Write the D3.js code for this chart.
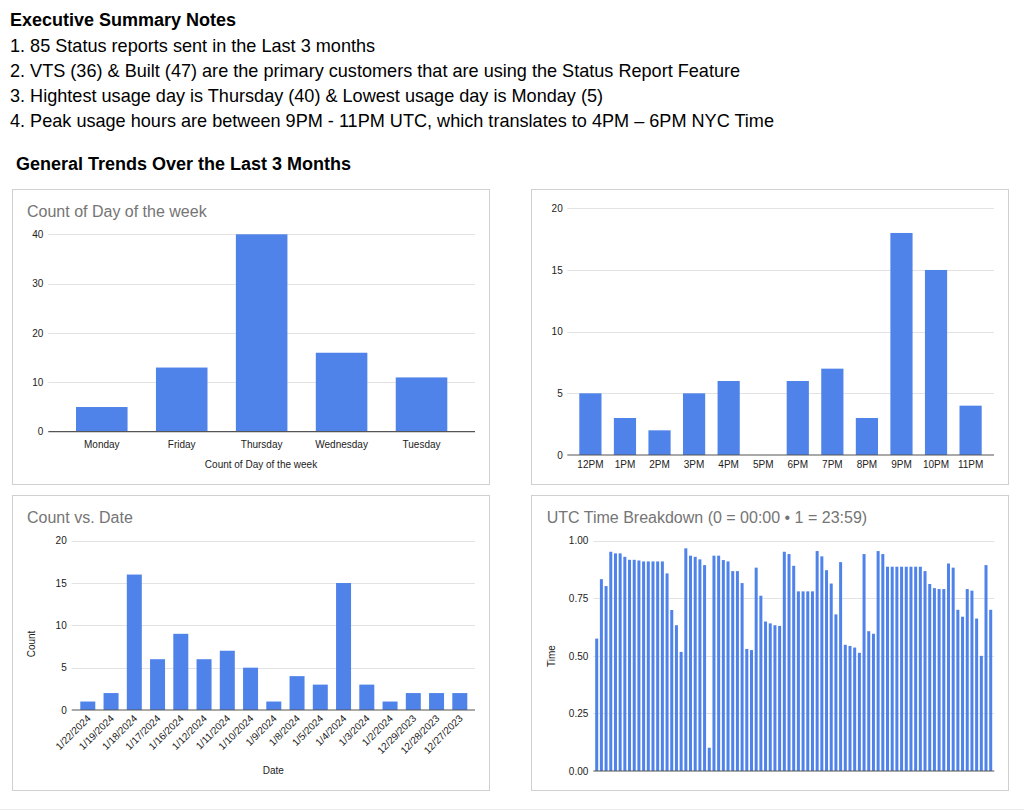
<!DOCTYPE html>
<html>
<head>
<meta charset="utf-8">
<script src="https://cdn.jsdelivr.net/npm/d3@7"></script>
<style>
  html, body { margin: 0; padding: 0; background: #fff; }
  svg { display: block; font-family: "Liberation Sans", Arial, Helvetica, sans-serif; }
</style>
</head>
<body>
<svg id="chart" width="1024" height="811"></svg>
<script>
// ---------- DATA ----------
const summaryTitle = "Executive Summary Notes";
const summaryLines = [
  "1. 85 Status reports sent in the Last 3 months",
  "2. VTS (36) & Built (47) are the primary customers that are using the Status Report Feature",
  "3. Hightest usage day is Thursday (40) & Lowest usage day is Monday (5)",
  "4. Peak usage hours are between 9PM - 11PM UTC, which translates to 4PM \u2013 6PM NYC Time"
];
const sectionTitle = "General Trends Over the Last 3 Months";

const days = ["Monday", "Friday", "Thursday", "Wednesday", "Tuesday"];
const dayCounts = [5, 13, 40, 16, 11];
const dayTicks = [0, 10, 20, 30, 40];

const hours = ["12PM", "1PM", "2PM", "3PM", "4PM", "5PM", "6PM", "7PM", "8PM", "9PM", "10PM", "11PM"];
const hourCounts = [5, 3, 2, 5, 6, 0, 6, 7, 3, 18, 15, 4];
const hourTicks = [0, 5, 10, 15, 20];

const dates = ["1/22/2024", "1/19/2024", "1/18/2024", "1/17/2024", "1/16/2024", "1/12/2024",
  "1/11/2024", "1/10/2024", "1/9/2024", "1/8/2024", "1/5/2024", "1/4/2024", "1/3/2024",
  "1/2/2024", "12/29/2023", "12/28/2023", "12/27/2023"];
const dateCounts = [1, 2, 16, 6, 9, 6, 7, 5, 1, 4, 3, 15, 3, 1, 2, 2, 2];
const dateTicks = [0, 5, 10, 15, 20];

const utcTimes = [
  0.575, 0.833, 0.803, 0.952, 0.945, 0.945, 0.930, 0.917, 0.917, 0.914,
  0.910, 0.910, 0.910, 0.910, 0.910, 0.858, 0.699, 0.633, 0.517, 0.967,
  0.935, 0.930, 0.919, 0.894, 0.101, 0.935, 0.935, 0.916, 0.910, 0.868,
  0.868, 0.816, 0.530, 0.525, 0.883, 0.761, 0.649, 0.641, 0.633, 0.630,
  0.952, 0.942, 0.891, 0.780, 0.780, 0.780, 0.780, 0.955, 0.932, 0.872,
  0.814, 0.680, 0.907, 0.548, 0.543, 0.536, 0.513, 0.942, 0.607, 0.596,
  0.955, 0.942, 0.887, 0.887, 0.887, 0.887, 0.887, 0.887, 0.887, 0.887,
  0.868, 0.812, 0.794, 0.790, 0.790, 0.901, 0.883, 0.700, 0.670, 0.790,
  0.783, 0.662, 0.500, 0.894, 0.700
];
const utcTicks = [0, 0.25, 0.5, 0.75, 1];

// ---------- STYLE ----------
const BAR = "#4f83ea";
const GRID = "#e3e3e3";
const BASE = "#555555";
const TICK = "#222222";
const TITLE = "#757575";

const svg = d3.select("#chart");

// summary text
svg.append("text").attr("x", 10).attr("y", 25.5)
  .attr("font-size", 18).attr("font-weight", "bold").attr("fill", "#000").text(summaryTitle);
svg.append("g").selectAll("text").data(summaryLines).join("text")
  .attr("x", 10).attr("y", (d, i) => 51.5 + i * 25.3)
  .attr("font-size", 18.1).attr("fill", "#000").text(d => d);
svg.append("text").attr("x", 16).attr("y", 169.5)
  .attr("font-size", 18).attr("font-weight", "bold").attr("fill", "#000").text(sectionTitle);

// page bottom line
svg.append("line").attr("x1", 0).attr("x2", 1024).attr("y1", 809.5).attr("y2", 809.5)
  .attr("stroke", "#ececec");

// helpers
function box(x, y, w, h) {
  svg.append("rect").attr("x", x + 0.5).attr("y", y + 0.5).attr("width", w).attr("height", h)
    .attr("fill", "#fff").attr("stroke", "#d0d0d0");
}

function yAxis(g, y, ticks, x0, x1, labelX, fmt) {
  g.append("g").selectAll("line").data(ticks.filter(t => t !== 0)).join("line")
    .attr("x1", x0).attr("x2", x1)
    .attr("y1", d => Math.round(y(d)) + 0.5).attr("y2", d => Math.round(y(d)) + 0.5)
    .attr("stroke", GRID);
  const ax = d3.axisLeft(y).tickValues(ticks).tickSize(0).tickPadding(0).tickFormat(fmt);
  const a = g.append("g").attr("transform", `translate(${labelX},0)`).call(ax);
  a.select(".domain").remove();
  a.selectAll("text").attr("font-size", 10).attr("fill", TICK)
    .attr("font-family", "Liberation Sans, Arial, sans-serif");
}

function baseline(g, y0, x0, x1) {
  g.append("line").attr("x1", x0).attr("x2", x1).attr("y1", y0).attr("y2", y0)
    .attr("stroke", BASE).attr("stroke-width", 1.2);
}

function bars(g, cats, vals, x, y) {
  g.append("g").selectAll("rect").data(vals).join("rect")
    .attr("x", (d, i) => x(cats[i])).attr("width", x.bandwidth())
    .attr("y", d => y(d)).attr("height", d => y(0) - y(d))
    .attr("fill", BAR);
}

// ---------- Chart 1: Count of Day of the week ----------
box(12, 189, 477, 295);
{
  const g = svg.append("g");
  g.append("text").attr("x", 27).attr("y", 216.7).attr("font-size", 16).attr("fill", TITLE)
    .text("Count of Day of the week");
  const y = d3.scaleLinear().domain([0, 40]).range([431.7, 234.3]);
  const x = d3.scaleBand().domain(days).range([76, 447.3]).paddingInner(0.355).paddingOuter(0);
  yAxis(g, y, dayTicks, 48.3, 475, 43.3, d3.format("d"));
  bars(g, days, dayCounts, x, y);
  baseline(g, y(0), 48.3, 475);
  const ax = d3.axisBottom(x).tickSize(0).tickPadding(0);
  const a = g.append("g").attr("transform", `translate(0,${y(0) + 9})`).call(ax);
  a.select(".domain").remove();
  a.selectAll("text").attr("font-size", 10).attr("fill", TICK).attr("dy", "0.71em")
    .attr("font-family", "Liberation Sans, Arial, sans-serif");
  g.append("text").attr("x", 261).attr("y", 467.5).attr("text-anchor", "middle")
    .attr("font-size", 10).attr("fill", TICK).text("Count of Day of the week");
}

// ---------- Chart 2: hours ----------
box(531, 189, 477, 295);
{
  const g = svg.append("g");
  const y = d3.scaleLinear().domain([0, 20]).range([455, 208.3]);
  const x = d3.scaleBand().domain(hours).range([579.3, 981.7]).paddingInner(0.358).paddingOuter(0);
  yAxis(g, y, hourTicks, 567.3, 994, 562.7, d3.format("d"));
  bars(g, hours, hourCounts, x, y);
  baseline(g, y(0), 567.3, 994);
  const ax = d3.axisBottom(x).tickSize(0).tickPadding(0);
  const a = g.append("g").attr("transform", `translate(0,${y(0) + 5.5})`).call(ax);
  a.select(".domain").remove();
  a.selectAll("text").attr("font-size", 10).attr("fill", TICK).attr("dy", "0.71em")
    .attr("font-family", "Liberation Sans, Arial, sans-serif");
}

// ---------- Chart 3: Count vs. Date ----------
box(12, 495, 477, 295);
{
  const g = svg.append("g");
  g.append("text").attr("x", 27).attr("y", 523.3).attr("font-size", 16).attr("fill", TITLE)
    .text("Count vs. Date");
  const y = d3.scaleLinear().domain([0, 20]).range([710, 540.7]);
  const x = d3.scaleBand().domain(dates).range([80.3, 467.3]).paddingInner(0.355).paddingOuter(0);
  yAxis(g, y, dateTicks, 71.7, 475, 66.7, d3.format("d"));
  bars(g, dates, dateCounts, x, y);
  baseline(g, y(0), 71.7, 475);
  g.append("g").selectAll("text").data(dates).join("text")
    .attr("transform", d => `translate(${x(d) + x.bandwidth() / 2 - 1.5},${y(0) + 4}) rotate(-45)`)
    .attr("text-anchor", "end").attr("dy", "0.71em")
    .attr("font-size", 10).attr("fill", TICK).text(d => d);
  g.append("text").attr("transform", "translate(35,644) rotate(-90)").attr("text-anchor", "middle")
    .attr("font-size", 10).attr("fill", TICK).text("Count");
  g.append("text").attr("x", 273.3).attr("y", 774).attr("text-anchor", "middle")
    .attr("font-size", 10).attr("fill", TICK).text("Date");
}

// ---------- Chart 4: UTC Time Breakdown ----------
box(531, 495, 477, 295);
{
  const g = svg.append("g");
  g.append("text").attr("x", 546.7).attr("y", 523.3).attr("font-size", 16).attr("fill", TITLE)
    .text("UTC Time Breakdown (0 = 00:00 \u2022 1 = 23:59)");
  const idx = utcTimes.map((d, i) => i);
  const y = d3.scaleLinear().domain([0, 1]).range([771, 540.7]);
  const x = d3.scaleBand().domain(idx).range([595.2, 992.2]).paddingInner(0.36).paddingOuter(0);
  yAxis(g, y, utcTicks, 593.3, 994.3, 588.3, d3.format(".2f"));
  bars(g, idx, utcTimes, x, y);
  baseline(g, y(0), 593.3, 994.3);
  g.append("text").attr("transform", "translate(554.5,656) rotate(-90)").attr("text-anchor", "middle")
    .attr("font-size", 10).attr("fill", TICK).text("Time");
}
</script>
</body>
</html>
